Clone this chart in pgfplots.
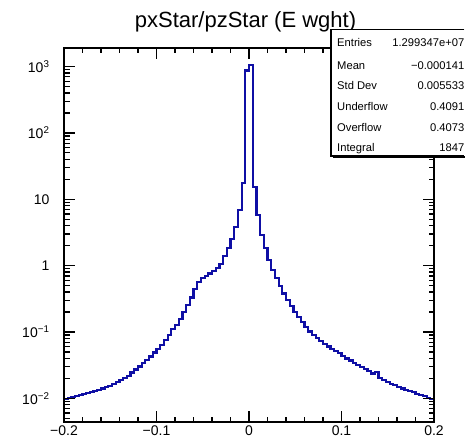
\documentclass[border=0pt]{standalone}
\usepackage{fontspec}
\setmainfont{Liberation Sans}
\usepackage{pgfplots}
\pgfplotsset{compat=1.18}
\definecolor{rootblue}{RGB}{15,15,165}
\begin{document}
\begin{tikzpicture}
\path (-64pt,-23pt) rectangle (401pt,422pt);
\begin{axis}[
  scale only axis, width=370pt, height=374pt,
  xmin=-0.2, xmax=0.2,
  ymode=log, ymin=0.0044, ymax=1900,
  axis line style={line width=1.8pt, black},
  tick style={line width=1.3pt, black},
  major tick length=11pt, minor tick length=5.5pt,
  tick align=inside,
  xtick={-0.2,-0.1,0,0.1,0.2},
  xticklabels={−0.2,−0.1,0,0.1,0.2},
  minor x tick num=4,
  ytick={0.01,0.1,1,10,100,1000},
  yticklabels={10\textsuperscript{−2},10\textsuperscript{−1},1,10,10\textsuperscript{2},10\textsuperscript{3}},
  ticklabel style={font=\fontsize{14}{14}\selectfont},
  yticklabel style={xshift=-11pt},
]
\addplot[const plot mark left, draw=rootblue, line width=2.2pt] coordinates {
(-0.200,0.00966) (-0.196,0.0100) (-0.192,0.01035) (-0.188,0.01072) (-0.184,0.0111)
(-0.180,0.0116) (-0.176,0.0120) (-0.172,0.01245) (-0.168,0.0129) (-0.164,0.0135)
(-0.160,0.0141) (-0.156,0.0148) (-0.152,0.0155) (-0.148,0.0166) (-0.144,0.0178)
(-0.140,0.0191) (-0.136,0.0202) (-0.132,0.0219) (-0.128,0.0245) (-0.124,0.0272)
(-0.120,0.0302) (-0.116,0.0339) (-0.112,0.0380) (-0.108,0.0427) (-0.104,0.0490)
(-0.100,0.0550) (-0.096,0.0631) (-0.092,0.0759) (-0.088,0.0891) (-0.084,0.1096)
(-0.080,0.1288) (-0.076,0.1585) (-0.072,0.1995) (-0.068,0.257) (-0.064,0.331)
(-0.060,0.447) (-0.056,0.562) (-0.052,0.646) (-0.048,0.700) (-0.044,0.759)
(-0.040,0.832) (-0.036,0.923) (-0.032,1.07) (-0.028,1.38) (-0.024,1.82)
(-0.020,2.51) (-0.016,3.80) (-0.012,6.92) (-0.008,17.4) (-0.004,871)
(0.000,1047) (0.004,15.5) (0.008,5.75) (0.012,2.88) (0.016,1.82)
(0.020,1.23) (0.024,0.851) (0.028,0.646) (0.032,0.490) (0.036,0.380)
(0.040,0.302) (0.044,0.245) (0.048,0.1995) (0.052,0.166) (0.056,0.141)
(0.060,0.119) (0.064,0.102) (0.068,0.0902) (0.072,0.0813) (0.076,0.0733)
(0.080,0.0661) (0.084,0.0603) (0.088,0.0550) (0.092,0.0513) (0.096,0.0479)
(0.100,0.0437) (0.104,0.0398) (0.108,0.0372) (0.112,0.0339) (0.116,0.0316)
(0.120,0.0295) (0.124,0.0275) (0.128,0.0257) (0.132,0.0237) (0.136,0.0251)
(0.140,0.0204) (0.144,0.0191) (0.148,0.0178) (0.152,0.0166) (0.156,0.0158)
(0.160,0.0148) (0.164,0.0141) (0.168,0.0135) (0.172,0.0129) (0.176,0.0123)
(0.180,0.0117) (0.184,0.0112) (0.188,0.0107) (0.192,0.0102) (0.196,0.0098)
(0.200,0.0098)
};
\end{axis}
% axis frame and tick marks (decoration), matching the axis geometry above
\begin{scope}
\clip (0pt,0pt) rectangle (370pt,374pt);
\foreach \i in {0,...,20} {
  \pgfmathsetmacro\xx{18.5*\i}
  \draw[line width=1.3pt, black] (\xx pt,0pt) -- ++(0pt,5.5pt);
  \draw[line width=1.3pt, black] (\xx pt,374pt) -- ++(0pt,-5.5pt);
}
\foreach \i in {0,...,4} {
  \pgfmathsetmacro\xx{92.5*\i}
  \draw[line width=1.3pt, black] (\xx pt,0pt) -- ++(0pt,11pt);
  \draw[line width=1.3pt, black] (\xx pt,374pt) -- ++(0pt,-11pt);
}
\foreach \n in {-2,...,3} {
  \pgfmathsetmacro\yy{66.367*(\n+2.35655)}
  \draw[line width=1.3pt, black] (0pt,\yy pt) -- ++(11pt,0pt);
  \draw[line width=1.3pt, black] (370pt,\yy pt) -- ++(-11pt,0pt);
}
\foreach \n in {-3,...,2} {
  \foreach \k in {2,...,9} {
    \pgfmathsetmacro\yy{66.367*(\n+2.35655+log10(\k))}
    \draw[line width=1.3pt, black] (0pt,\yy pt) -- ++(5.5pt,0pt);
    \draw[line width=1.3pt, black] (370pt,\yy pt) -- ++(-5.5pt,0pt);
  }
}
\end{scope}
\draw[line width=1.8pt, black] (0pt,0pt) rectangle (370pt,374pt);
\node[anchor=base, font=\fontsize{22}{22}\selectfont, inner sep=0pt] at (181.5pt,394pt) {pxStar/pzStar (E wght)};
\fill[black] (269pt,264pt) rectangle (401pt,266pt);
\fill[white] (267pt,266pt) rectangle (401pt,392.3pt);
\draw[line width=1.2pt] (400.4pt,392.3pt) -- (267pt,392.3pt) -- (267pt,266pt) -- (400.4pt,266pt);
\begin{scope}[every node/.style={font=\fontsize{11.2}{11.2}\selectfont, inner sep=0pt}]
\node[anchor=base west] at (273pt,375pt) {Entries};
\node[anchor=base west] at (273pt,352.5pt) {Mean};
\node[anchor=base west] at (273pt,332pt) {Std Dev};
\node[anchor=base west] at (273pt,311pt) {Underflow};
\node[anchor=base west] at (273pt,290pt) {Overflow};
\node[anchor=base west] at (273pt,270pt) {Integral};
\node[anchor=base east] at (400.5pt,375pt) {1.299347e+07};
\node[anchor=base east] at (400.5pt,352.5pt) {−0.000141};
\node[anchor=base east] at (400.5pt,332pt) {0.005533};
\node[anchor=base east] at (400.5pt,311pt) {0.4091};
\node[anchor=base east] at (400.5pt,290pt) {0.4073};
\node[anchor=base east] at (400.5pt,270pt) {1847};
\end{scope}
\end{tikzpicture}
\end{document}
